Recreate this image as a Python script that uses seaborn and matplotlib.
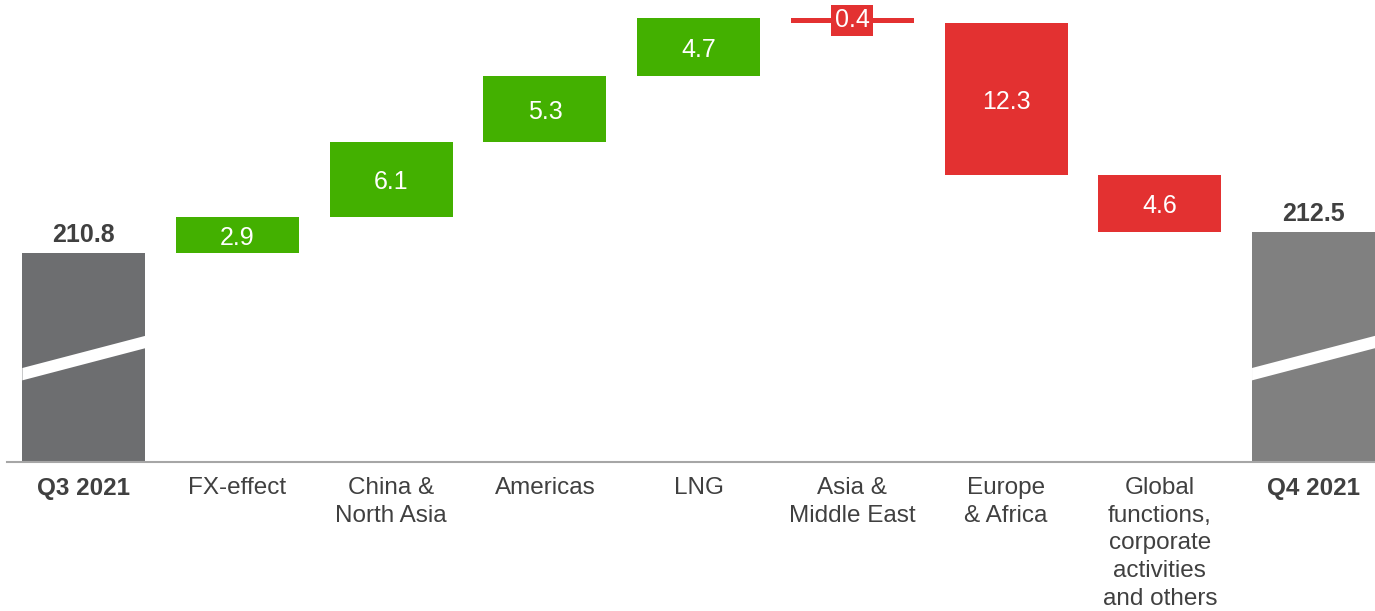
import numpy as np
import pandas as pd
import matplotlib
matplotlib.use("Agg")
import matplotlib.pyplot as plt
import seaborn as sns

# ---- data ----
categories = ["Q3 2021", "FX-effect", "China &\nNorth Asia", "Americas", "LNG",
              "Asia &\nMiddle East", "Europe\n& Africa",
              "Global\nfunctions,\ncorporate\nactivities\nand others", "Q4 2021"]
start_total = 210.8
end_total = 212.5
deltas = [2.9, 6.1, 5.3, 4.7, -0.4, -12.3, -4.6]
value_labels = ["210.8", "2.9", "6.1", "5.3", "4.7", "0.4", "12.3", "4.6", "212.5"]

# ---- style ----
GREEN = "#43B000"
RED = "#E33131"
GRAY_START = "#6D6E70"
GRAY_END = "#808080"
TEXT = "#404040"
AXIS = "#A6A6A6"

# waterfall geometry derived from the data
bottoms, heights, colors = [0.0], [start_total], [GRAY_START]
run = start_total
for d in deltas:
    if d >= 0:
        bottoms.append(run); heights.append(d); colors.append(GREEN)
    else:
        bottoms.append(run + d); heights.append(-d); colors.append(RED)
    run += d
bottoms.append(0.0); heights.append(end_total); colors.append(GRAY_END)

df = pd.DataFrame({"category": categories, "height": heights})

sns.set_theme(style="white")
plt.rcParams['font.family'] = ['Liberation Sans', 'DejaVu Sans']

fig = plt.figure(figsize=(13.75, 6.11), dpi=100)
ax = fig.add_axes([7 / 1375, 149 / 611, 1 - 7 / 1375, 462 / 611])

sns.barplot(data=df, x="category", y="height", order=categories,
            bottom=np.array(bottoms), width=0.8, color=GRAY_START,
            saturation=1, errorbar=None, ax=ax)
for p, c in zip(ax.patches, colors):
    p.set_facecolor(c)
    p.set_edgecolor("none")

ax.set_ylim(193.9, 231.25)
ax.set_xlim(-0.5, 8.4)

# axis-break bands on the two total bars
for i in (0, len(categories) - 1):
    l, r = i - 0.4, i + 0.4
    poly = [(l, 200.5), (r, 203.1), (r, 204.1), (l, 201.5)]
    ax.add_patch(plt.Polygon(poly, closed=True, facecolor="white",
                             edgecolor="none", zorder=5))

# labels
n = len(categories)
for i in range(n):
    if i == 0 or i == n - 1:
        top = bottoms[i] + heights[i]
        ax.annotate(value_labels[i], (i, top), xytext=(0, 4),
                    textcoords="offset points", ha="center", va="bottom",
                    fontsize=18, fontweight="bold", color=TEXT)
    else:
        yc = bottoms[i] + heights[i] / 2
        if heights[i] < 1.0:
            ax.text(i, yc, value_labels[i], ha="center", va="center",
                    fontsize=18, color="white", zorder=6,
                    bbox=dict(boxstyle="square,pad=0.14", fc=colors[i], ec="none"))
        else:
            ax.annotate(value_labels[i], (i, yc), xytext=(0, -2),
                        textcoords="offset points", ha="center", va="center",
                        fontsize=18, color="white", zorder=6)

ax.set_xticks(range(n))
ax.set_xticklabels(categories, fontsize=17.5, color=TEXT, linespacing=1.33)
for i, t in enumerate(ax.get_xticklabels()):
    if i == 0 or i == n - 1:
        t.set_fontweight("bold")
ax.tick_params(axis="x", length=0, pad=11)
ax.set_yticks([])
ax.set_xlabel("")
ax.set_ylabel("")
for s in ("top", "right", "left"):
    ax.spines[s].set_visible(False)
ax.spines["bottom"].set_color(AXIS)
ax.spines["bottom"].set_linewidth(1.5)

fig.savefig("out.png", dpi=100)
